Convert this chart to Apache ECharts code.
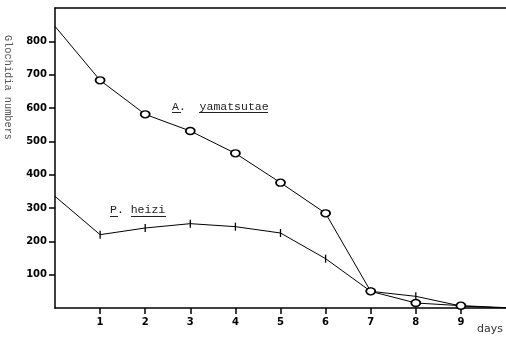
<!DOCTYPE html>
<html>
<head>
<meta charset="utf-8">
<script src="https://cdn.jsdelivr.net/npm/echarts@6/dist/echarts.min.js"></script>
<style>html,body{margin:0;padding:0;background:#fff}#c{width:506px;height:337px}</style>
</head>
<body>
<div id="c"></div>
<script>
var days = [0, 1, 2, 3, 4, 5, 6, 7, 8, 9, 10];
var yamatsutae = [845, 683, 581, 531, 464, 376, 284, 50, 15, 7, 1];
var heizi = [335, 220, 240, 253, 244, 225, 148, 50, 35, 6, 0];
var xTickLabels = [1, 2, 3, 4, 5, 6, 7, 8, 9];
var yTickLabels = [100, 200, 300, 400, 500, 600, 700, 800];

function build(vals) {
  return vals.map(function (v, i) {
    var item = { value: [days[i], v] };
    if (i === 0 || i === vals.length - 1) item.symbol = 'none';
    return item;
  });
}

var chart = echarts.init(document.getElementById('c'), null, { renderer: 'canvas' });
chart.setOption({
  backgroundColor: '#fff',
  animation: false,
  grid: { left: 55, right: 0, top: 8, bottom: 29 },
  xAxis: [{
    type: 'value', min: 0, max: 10, interval: 1,
    axisLine: { show: true, lineStyle: { color: '#000', width: 1.5 } },
    axisTick: { show: true, length: 6, customValues: xTickLabels, lineStyle: { color: '#000', width: 1.5 } },
    axisLabel: { show: true, customValues: xTickLabels, margin: 9, color: '#000', fontFamily: 'DejaVu Sans', fontWeight: 'bold', fontSize: 10 },
    splitLine: { show: false }
  }, {
    type: 'value', min: 0, max: 10, position: 'top',
    axisLine: { show: true, lineStyle: { color: '#000', width: 1.5 } },
    axisTick: { show: false }, axisLabel: { show: false }, splitLine: { show: false }
  }],
  yAxis: {
    type: 'value', min: 0, max: 900, interval: 100,
    axisLine: { show: true, lineStyle: { color: '#000', width: 1.5 } },
    axisTick: { show: true, length: 6, customValues: yTickLabels, lineStyle: { color: '#000', width: 1.5 } },
    axisLabel: { show: true, customValues: yTickLabels, margin: 8, color: '#000', fontFamily: 'DejaVu Sans', fontWeight: 'bold', fontSize: 10 },
    splitLine: { show: false }
  },
  series: [{
    type: 'line', name: 'A. yamatsutae', data: build(yamatsutae),
    symbol: 'circle', symbolSize: [9, 7], showAllSymbol: true,
    lineStyle: { color: '#000', width: 1 },
    itemStyle: { color: '#fff', borderColor: '#000', borderWidth: 1.6 },
    z: 3
  }, {
    type: 'line', name: 'P. heizi', data: build(heizi),
    symbol: 'rect', symbolSize: [1.3, 8], showAllSymbol: true,
    lineStyle: { color: '#000', width: 1 },
    itemStyle: { color: '#000', borderWidth: 0 },
    z: 2
  }],
  graphic: [
    { type: 'text', left: 172, top: 101, style: { text: 'A.  yamatsutae', font: '11.5px "Liberation Mono"', fill: '#222' } },
    { type: 'line', shape: { x1: 172, y1: 112.5, x2: 181, y2: 112.5 }, style: { stroke: '#222', lineWidth: 1 } },
    { type: 'line', shape: { x1: 199, y1: 112.5, x2: 268, y2: 112.5 }, style: { stroke: '#222', lineWidth: 1 } },
    { type: 'text', left: 110, top: 204, style: { text: 'P. heizi', font: '11.5px "Liberation Mono"', fill: '#222' } },
    { type: 'line', shape: { x1: 110, y1: 216.5, x2: 118, y2: 216.5 }, style: { stroke: '#222', lineWidth: 1 } },
    { type: 'line', shape: { x1: 131, y1: 216.5, x2: 166, y2: 216.5 }, style: { stroke: '#222', lineWidth: 1 } },
    { type: 'text', left: 477, top: 324, style: { text: 'days', font: '11px "DejaVu Sans"', fill: '#333' } },
    { type: 'text', x: 3, y: 35, rotation: -Math.PI / 2, style: { text: 'Glochidia numbers', font: '10.3px "Liberation Mono"', fill: '#555', textVerticalAlign: 'bottom' } }
  ]
});
</script>
</body>
</html>
